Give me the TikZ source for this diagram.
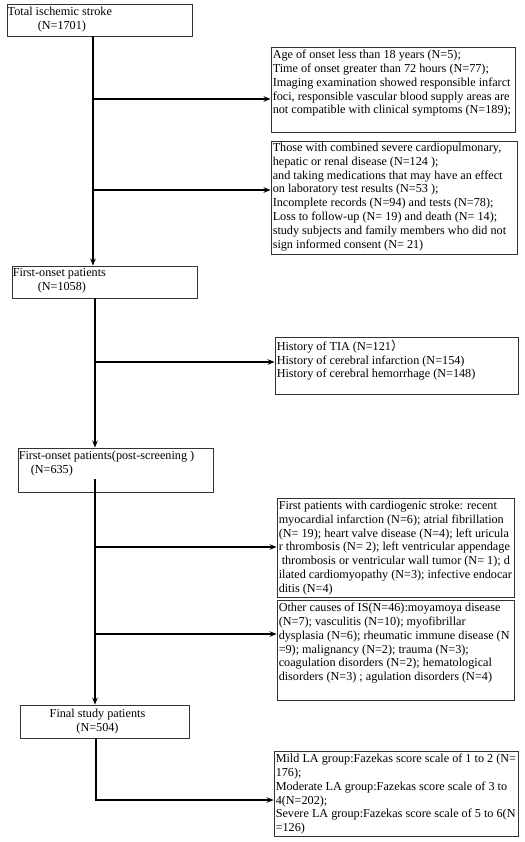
\documentclass[tikz,border=0pt]{standalone}
\usepackage{fontspec}
\setmainfont{Liberation Serif}
\newfontfamily\cjkfont{Noto Sans CJK SC}
\usetikzlibrary{arrows.meta,fit}
\begin{document}
\begin{tikzpicture}[x=1pt,y=-1pt,
  frame/.style={draw=black!80,line width=0.9pt,inner sep=0pt},
  txt/.style={inner sep=0pt,align=left,anchor=north west,font=\fontsize{12.2}{13.9}\selectfont},
  ctxt/.style={inner sep=0pt,align=center,font=\fontsize{12.2}{13.9}\selectfont},
  link/.style={line width=1.4pt,black},
  flow/.style={link,-{Stealth[length=7pt,width=5.5pt]}}]
\useasboundingbox (0,0) rectangle (524,842);
\fill[white] (0,0) rectangle (524,842);

% boxes
\node[frame,fit={(7,4) (192,36)}] (b1) {};
\node[frame,fit={(271,47) (515,132)}] (b2) {};
\node[frame,fit={(271,141) (517,254)}] (b3) {};
\node[frame,fit={(12,266) (197,298)}] (b4) {};
\node[frame,fit={(275,337) (518,394)}] (b5) {};
\node[frame,fit={(18,448) (213,492)}] (b6) {};
\node[frame,fit={(277,498) (514,597)}] (b7) {};
\node[frame,fit={(277,600) (514,700)}] (b8) {};
\node[frame,fit={(20,705) (189,738)}] (b9) {};
\node[frame,fit={(274,751) (518,836)}] (b10) {};

% texts
\node[txt] (t1) at ([xshift=1pt,yshift=-3pt]b1.north west) {Total ischemic stroke\\\hspace*{30pt}(N=1701)};
\node[txt] (t2) at ([xshift=2pt,yshift=-3pt]b2.north west) {Age of onset less than 18 years (N=5);\\Time of onset greater than 72 hours (N=77);\\Imaging examination showed responsible infarct\\foci, responsible vascular blood supply areas are\\not compatible with clinical symptoms (N=189);};
\node[txt] (t3) at ([xshift=2pt,yshift=-2pt]b3.north west) {Those with combined severe cardiopulmonary,\\hepatic or renal disease (N=124 );\\and taking medications that may have an effect\\on laboratory test results (N=53 );\\Incomplete records (N=94) and tests (N=78);\\Loss to follow-up (N= 19) and death (N= 14);\\study subjects and family members who did not\\sign informed consent (N= 21)};
\node[txt] (t4) at ([xshift=1pt,yshift=-3pt]b4.north west) {First-onset patients\\\hspace*{25pt}(N=1058)};
\node[txt] (t5) at ([xshift=2pt,yshift=-3pt]b5.north west) {History of TIA (N=121{\cjkfont ）}\\History of cerebral infarction (N=154)\\History of cerebral hemorrhage (N=148)};
\node[txt] (t6) at ([xshift=1pt,yshift=-3pt]b6.north west) {First-onset patients(post-screening )\\\hspace*{12pt}(N=635)};
\node[txt] (t7) at ([xshift=2pt,yshift=-3pt]b7.north west) {First patients with cardiogenic stroke: recent\\myocardial infarction (N=6); atrial fibrillation\\(N= 19); heart valve disease (N=4); left uricula\\r thrombosis (N= 2); left ventricular appendage\\\hspace*{3pt}thrombosis or ventricular wall tumor (N= 1); d\\ilated cardiomyopathy (N=3); infective endocar\\ditis (N=4)};
\node[txt] (t8) at ([xshift=2pt,yshift=-3pt]b8.north west) {Other causes of IS(N=46):moyamoya disease\\(N=7); vasculitis (N=10); myofibrillar\\dysplasia (N=6); rheumatic immune disease (N\\=9); malignancy (N=2); trauma (N=3);\\coagulation disorders (N=2); hematological\\disorders (N=3) ; agulation disorders (N=4)};
\node[ctxt] (t9) at ([xshift=-7pt]b9.center) {Final study patients\\(N=504)};
\node[txt] (t10) at ([xshift=2pt,yshift=-3pt]b10.north west) {Mild LA group:Fazekas score scale of 1 to 2 (N=\\176);\\Moderate LA group:Fazekas score scale of 3 to\\4(N=202);\\Severe LA group:Fazekas score scale of 5 to 6(N\\=126)};

% junction coordinates
\coordinate (j2) at (93,99);
\coordinate (j3) at (93,190);
\coordinate (j5) at (95,362);
\coordinate (s6) at (95,479);
\coordinate (j7) at (95,547);
\coordinate (j8) at (95,634);
\coordinate (j10) at (96,800);

% connectors
\draw[flow] (b1.south -| j2) -- (b4.north -| j2);
\draw[flow] (j2) -- (j2 -| b2.west);
\draw[flow] (j3) -- (j3 -| b3.west);
\draw[flow] (b4.south -| j5) -- (b6.north -| j5);
\draw[flow] (j5) -- (j5 -| b5.west);
\draw[flow] (s6) -- (b9.north -| s6);
\draw[flow] (j7) -- (j7 -| b7.west);
\draw[flow] (j8) -- (j8 -| b8.west);
\draw[flow] (b9.south -| j10) -- (j10) -- (j10 -| b10.west);
\end{tikzpicture}
\end{document}
